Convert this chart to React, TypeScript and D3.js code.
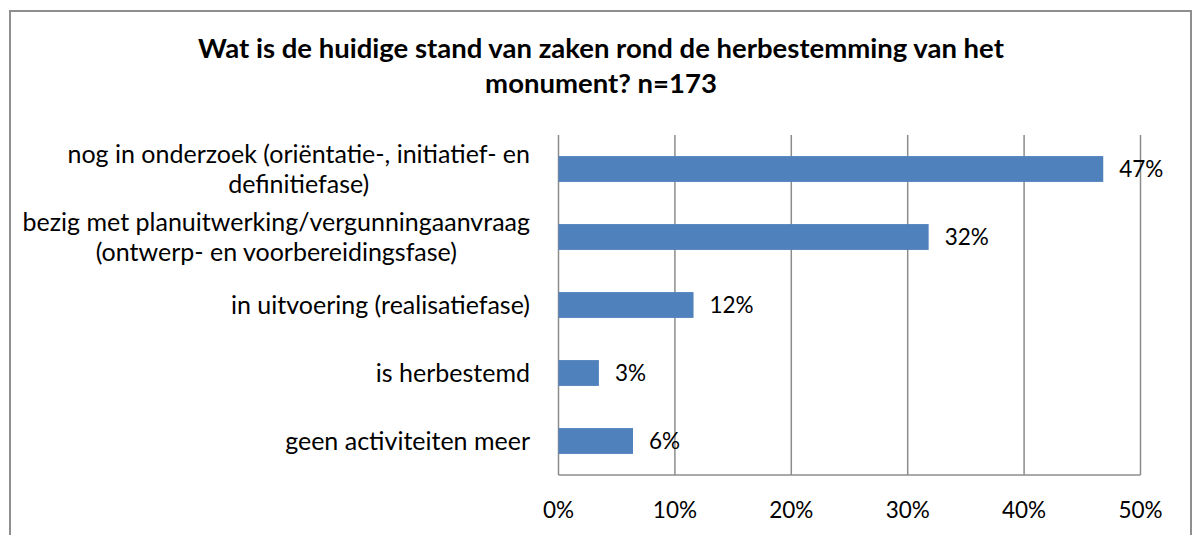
import { useEffect, useRef } from "react";
import * as d3 from "d3";

const categories = [
  "nog in onderzoek (oriëntatie-, initiatief- en\ndefinitiefase)",
  "bezig met planuitwerking/vergunningaanvraag\n(ontwerp- en voorbereidingsfase)",
  "in uitvoering (realisatiefase)",
  "is herbestemd",
  "geen activiteiten meer",
];
// share of respondents (n=173)
const values = [0.468, 0.318, 0.116, 0.0347, 0.064];
const ticks = [0, 0.1, 0.2, 0.3, 0.4, 0.5];
const titleLines = [
  "Wat is de huidige stand van zaken rond de herbestemming van het",
  "monument? n=173",
];

const W = 1193;
const H = 535;
const FONT = "Lato, 'Open Sans', sans-serif";

export default function App() {
  const labelRef = useRef<SVGGElement | null>(null);

  const x = d3.scaleLinear().domain([0, 0.5]).range([558.5, 1140.5]);
  const y = d3
    .scaleBand<number>()
    .domain(d3.range(categories.length))
    .range([135, 475])
    .paddingInner(0.62)
    .paddingOuter(0.31);
  const fmt = d3.format(".0%");

  useEffect(() => {
    document.body.style.margin = "0";
    const g = d3.select(labelRef.current);
    g.selectAll("*").remove();

    const right = 530;
    const lh = 30;
    categories.forEach((c, i) => {
      const lines = c.split("\n");
      const cy = (y(i) ?? 0) + y.bandwidth() / 2;
      const txt = g
        .append("text")
        .attr("font-size", 25)
        .attr("fill", "#000")
        .attr("text-anchor", "middle");
      const spans = lines.map((l, j) =>
        txt
          .append("tspan")
          .attr("y", cy - ((lines.length - 1) * lh) / 2 + j * lh)
          .attr("dy", "0.35em")
          .text(l)
      );
      // lines are centred on each other, block right-aligned to the axis
      const maxW = d3.max(spans, (s) => (s.node() as SVGTSpanElement).getComputedTextLength()) ?? 0;
      spans.forEach((s) => s.attr("x", right - maxW / 2));
    });
  }, []);

  return (
    <svg width={W} height={H} style={{ display: "block" }} fontFamily={FONT}>
      <rect x={0} y={0} width={W} height={H} fill="#fff" />
      <rect
        x={10}
        y={11}
        width={1181}
        height={H + 10}
        fill="none"
        stroke="#8f8f8f"
        strokeWidth={2}
      />
      {titleLines.map((t, i) => (
        <text
          key={i}
          x={601}
          y={58 + i * 35}
          textAnchor="middle"
          fontWeight="bold"
          fontSize={27.5}
          fill="#000"
        >
          {t}
        </text>
      ))}

      {ticks.map((t) => (
        <line
          key={t}
          x1={x(t)}
          x2={x(t)}
          y1={135}
          y2={475}
          stroke="#8c8c8c"
          strokeWidth={1.5}
        />
      ))}
      <line x1={x(0)} x2={x(0.5)} y1={475} y2={475} stroke="#8c8c8c" strokeWidth={1.5} />

      {ticks.map((t) => (
        <text
          key={"t" + t}
          x={x(t)}
          y={518}
          textAnchor="middle"
          fontSize={22.5}
          fill="#000"
        >
          {fmt(t)}
        </text>
      ))}

      {values.map((v, i) => (
        <g key={i}>
          <rect
            x={x(0)}
            y={y(i)!}
            width={x(v) - x(0)}
            height={y.bandwidth()}
            fill="#4f81bd"
          />
          <text
            x={x(v) + 16}
            y={y(i)! + y.bandwidth() / 2}
            dy="0.35em"
            fontSize={22.5}
            fill="#000"
          >
            {fmt(v)}
          </text>
        </g>
      ))}

      <g ref={labelRef} />
    </svg>
  );
}
